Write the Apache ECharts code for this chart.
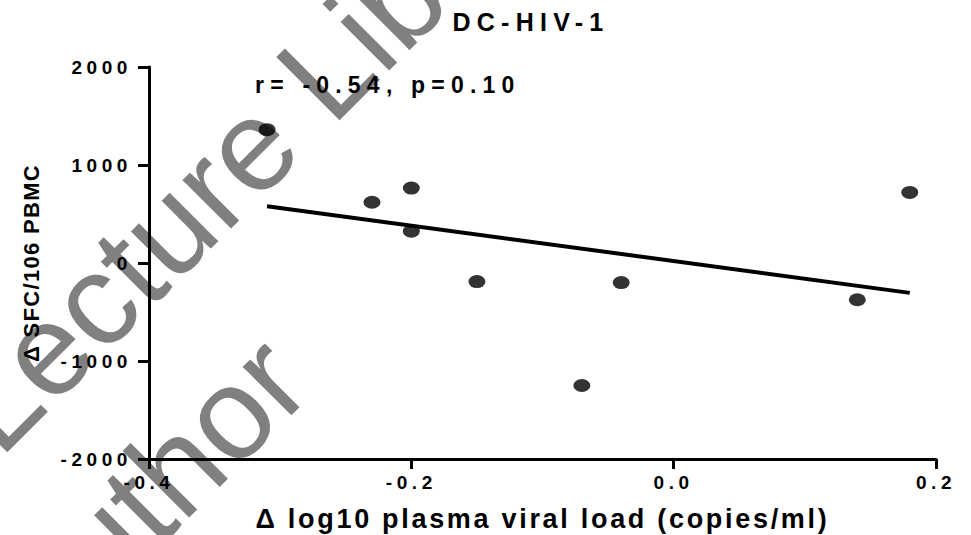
<!DOCTYPE html>
<html><head><meta charset="utf-8">
<script src="https://cdn.jsdelivr.net/npm/echarts@6/dist/echarts.min.js"></script>
<style>html,body{margin:0;padding:0;background:#fff}#chart{width:971px;height:535px}</style>
</head><body><div id="chart"></div>
<script>
const chartTitle = 'DC-HIV-1';
const statsText = 'r= -0.54, p=0.10';
const xAxisName = 'Δ log10 plasma viral load (copies/ml)';
const yAxisName = 'Δ SFC/106 PBMC';
const xValues = [-0.31, -0.23, -0.20, -0.20, -0.15, -0.07, -0.04, 0.14, 0.18];
const yValues = [1360, 620, 765, 325, -190, -1250, -200, -375, 720];
const fitX = [-0.31, 0.18];
const fitY = [580, -305];
const xTicks = [-0.4, -0.2, 0.0, 0.2];
const yTicks = [-2000, -1000, 0, 1000, 2000];
const watermarkLines = ['Lecture Library', 'Author'];

const FONT = '"Liberation Sans", Arial, sans-serif';
const chart = echarts.init(document.getElementById('chart'), null, {renderer: 'svg'});
const ellipse = 'path://M0,6.5A8.5,6.5,0,1,0,17,6.5A8.5,6.5,0,1,0,0,6.5Z';

function txt(x, y, text, font, align, extra) {
  return Object.assign({type: 'text', x: x, y: y, z: 10,
    style: {text: text, font: font, fill: '#000', align: align, textAlign: align,
      verticalAlign: 'middle', textVerticalAlign: 'middle'}}, extra || {});
}
function mark(x, y, text) {
  return {type: 'text', x: x, y: y, z: -10, rotation: Math.PI / 4,
    style: {text: text, font: '130px ' + FONT, fill: '#808080',
      align: 'left', textAlign: 'left', verticalAlign: 'middle', textVerticalAlign: 'middle'}};
}

const option = {
  animation: false,
  backgroundColor: '#fff',
  grid: {left: 149, right: 35, top: 67, bottom: 76, containLabel: false, outerBoundsMode: 'none'},
  xAxis: {
    type: 'value',
    min: xTicks[0], max: xTicks[xTicks.length - 1],
    interval: +(xTicks[1] - xTicks[0]).toFixed(6),
    name: xAxisName, nameLocation: 'middle', nameGap: 46,
    nameTextStyle: {color: '#000', fontFamily: FONT, fontWeight: 'bold', fontSize: 27},
    axisLine: {show: true, onZero: false, lineStyle: {color: '#000', width: 3}},
    axisTick: {show: true, length: 10, lineStyle: {color: '#000', width: 3}},
    axisLabel: {color: '#000', fontFamily: FONT, fontWeight: 'bold', fontSize: 19, margin: 14,
      formatter: v => v.toFixed(1)},
    splitLine: {show: false}
  },
  yAxis: {
    type: 'value',
    min: yTicks[0], max: yTicks[yTicks.length - 1],
    interval: yTicks[1] - yTicks[0],
    name: yAxisName, nameLocation: 'middle', nameGap: 107, nameRotate: 90,
    nameTextStyle: {color: '#000', fontFamily: FONT, fontWeight: 'bold', fontSize: 22},
    axisLine: {show: true, onZero: false, lineStyle: {color: '#000', width: 3}},
    axisTick: {show: true, length: 11, lineStyle: {color: '#000', width: 3}},
    axisLabel: {color: '#000', fontFamily: FONT, fontWeight: 'bold', fontSize: 19, margin: 17,
      formatter: v => String(v)},
    splitLine: {show: false}
  },
  graphic: {elements: [
    mark(-32, 428, watermarkLines[0]),
    mark(13, 630, watermarkLines[1]),
    txt(531, 22, chartTitle, 'bold 25px ' + FONT, 'center'),
    txt(255, 85, statsText, 'bold 23px ' + FONT, 'left')
  ]},
  series: [
    {type: 'line', data: fitX.map((x, i) => [x, fitY[i]]), showSymbol: false, symbol: 'none',
      lineStyle: {color: '#000', width: 4}, z: 3, silent: true},
    {type: 'scatter', data: xValues.map((x, i) => [x, yValues[i]]), symbol: ellipse,
      symbolSize: [17, 13], itemStyle: {color: '#000'}, z: 4}
  ]
};
chart.setOption(option);

function spacingFor(t) {
  if (t === chartTitle) return '0.25em';
  if (t === statsText) return '0.27em';
  if (t === xAxisName) return '0.1em';
  if (t === yAxisName) return '0.06em';
  if (/^-?[\d.]+$/.test(t)) return '0.24em';
  return null;
}
function applySpacing() {
  document.querySelectorAll('#chart svg text').forEach(el => {
    const s = spacingFor(el.textContent);
    if (s) el.style.letterSpacing = s;
  });
}
applySpacing();
chart.on('finished', applySpacing);
setTimeout(applySpacing, 0);
setTimeout(applySpacing, 100);
</script></body></html>
